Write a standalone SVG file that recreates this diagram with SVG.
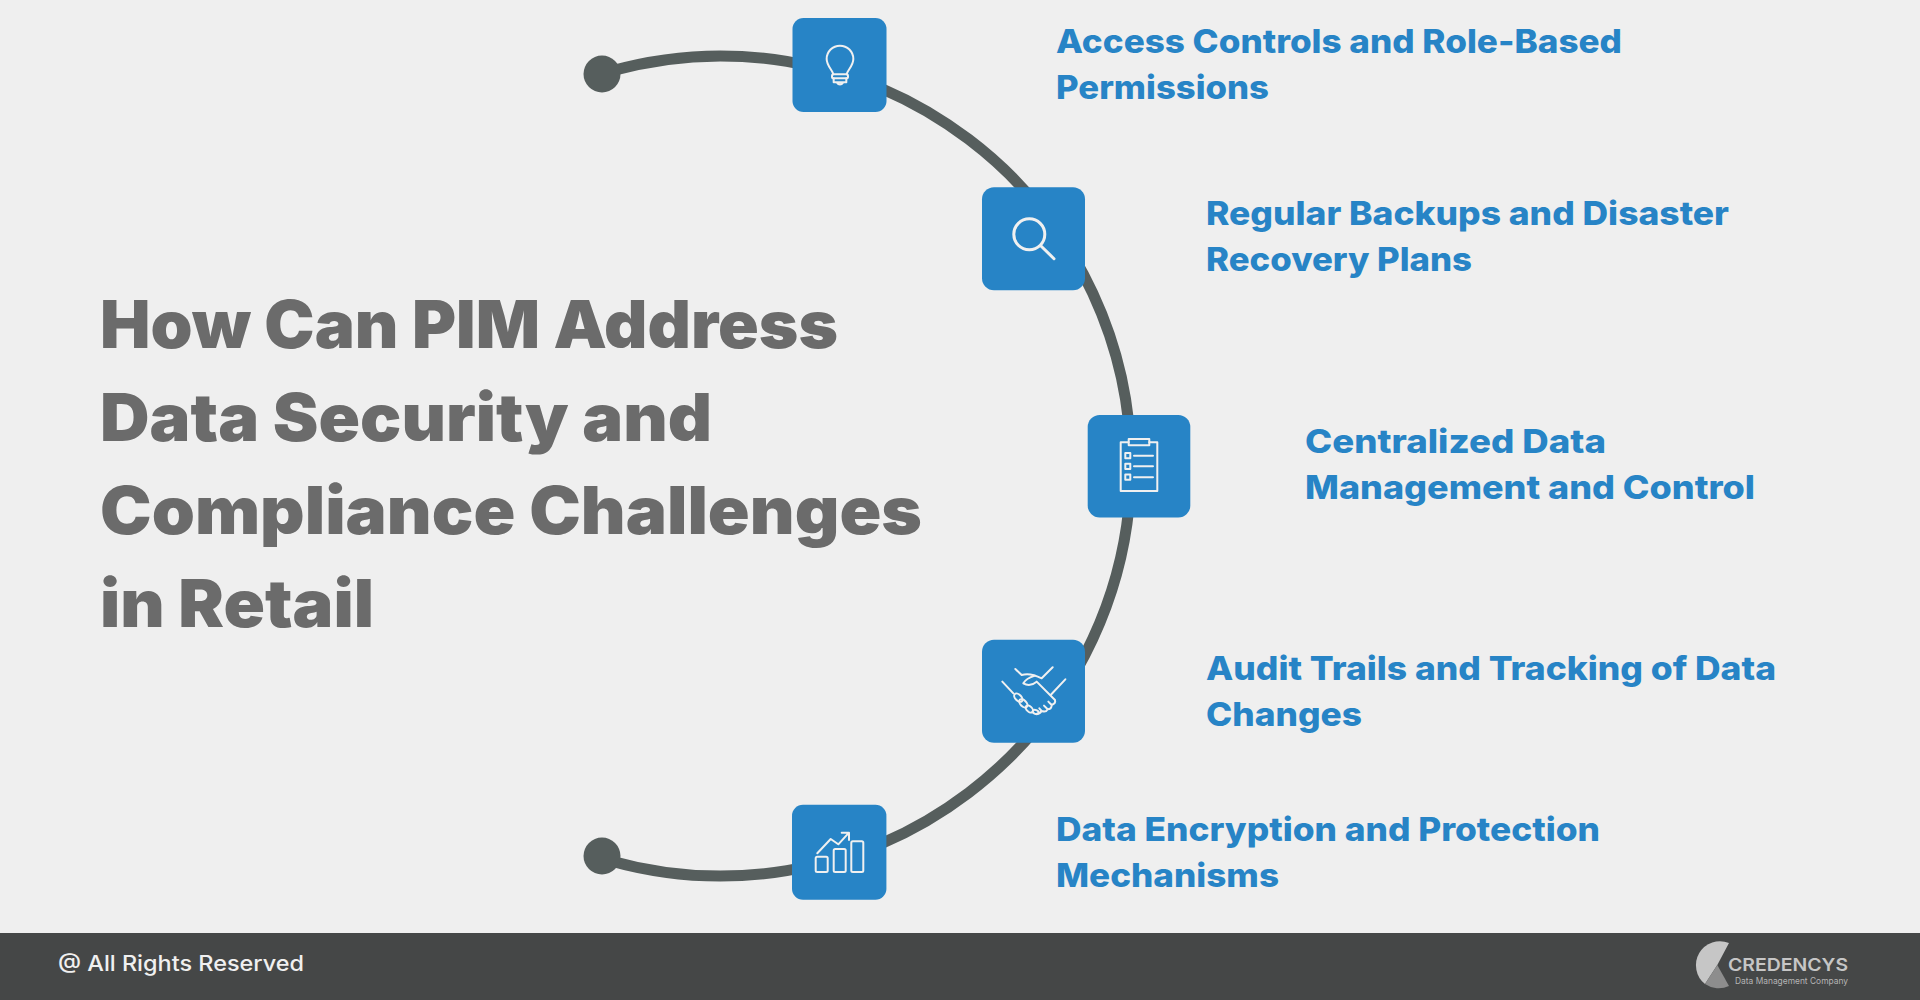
<svg xmlns="http://www.w3.org/2000/svg" width="1920" height="1000" viewBox="0 0 1920 1000">
<defs><style>
.h{font-family:"Inter","Liberation Sans",sans-serif;font-weight:900;font-size:66px;fill:#6b6b6b}
.t{font-family:"Inter","Liberation Sans",sans-serif;font-weight:800;font-size:33px;fill:#2784c6}
.n{fill:#2784c6}
.i{fill:none;stroke:#f0f0f0;stroke-width:2;stroke-linecap:round;stroke-linejoin:round}
.z{stroke-width:6}
</style></defs>
<rect width="1920" height="1000" fill="#efefef"/>
<g id="connectors">
<path d="M610 71.300A410 410 0 1 1 610 860.700" fill="none" stroke="#565e5d" stroke-width="11"/>
<circle cx="602" cy="74" r="18.500" fill="#565e5d"/>
<circle cx="602" cy="856" r="18.500" fill="#565e5d"/>
</g>
<g id="title"><text class="h" x="100" y="348" textLength="738" lengthAdjust="spacingAndGlyphs">How Can PIM Address</text>
<text class="h" x="100" y="441" textLength="612" lengthAdjust="spacingAndGlyphs">Data Security and</text>
<text class="h" x="100" y="534" textLength="822" lengthAdjust="spacingAndGlyphs">Compliance Challenges</text>
<text class="h" x="100" y="627" textLength="274" lengthAdjust="spacingAndGlyphs">in Retail</text></g>
<g id="node1"><rect class="n" x="792.500" y="18" width="94" height="94" rx="11"/>
<g class="i z" transform="translate(780 20) scale(.3333)"><path d="M160 163C158 150 140 138 140 117A40 40 0 0 1 220 117C220 138 202 150 200 163"/><rect x="156" y="163" width="48" height="12" rx="5"/><path d="M161 175V187H199V175M170 187Q180 200 190 187"/></g>
<text class="t" x="1056" y="53" textLength="566" lengthAdjust="spacingAndGlyphs">Access Controls and Role-Based</text>
<text class="t" x="1056" y="99" textLength="213" lengthAdjust="spacingAndGlyphs">Permissions</text></g>
<g id="node2"><rect class="n" x="982" y="187.300" width="103" height="103" rx="12"/>
<g class="i" style="stroke-width:3"><circle cx="1029.300" cy="234.300" r="15.500"/><path d="M1041 246L1054 258.700"/></g>
<text class="t" x="1206" y="225" textLength="523" lengthAdjust="spacingAndGlyphs">Regular Backups and Disaster</text>
<text class="t" x="1206" y="271" textLength="266" lengthAdjust="spacingAndGlyphs">Recovery Plans</text></g>
<g id="node3"><rect class="n" x="1087.700" y="415" width="102.600" height="102.600" rx="12"/>
<g class="i"><path d="M1128.700 442.300H1120.700V491H1157.300V442.300H1149.300"/><rect x="1128.700" y="439" width="20.600" height="6.300"/><rect x="1125.300" y="453" width="5" height="5.300"/><rect x="1125.300" y="463.700" width="5" height="5.300"/><rect x="1125.300" y="474.500" width="5" height="5.300"/><path d="M1134 455.700H1153M1134 466.300H1153M1134 477.200H1153"/></g>
<text class="t" x="1305" y="452.500" textLength="301" lengthAdjust="spacingAndGlyphs">Centralized Data</text>
<text class="t" x="1305" y="498.500" textLength="450" lengthAdjust="spacingAndGlyphs">Management and Control</text></g>
<g id="node4"><rect class="n" x="982" y="639.800" width="103" height="103" rx="12"/>
<g class="i z" transform="translate(980 640) scale(.3333)"><path d="M106 87L125 105Q150 97 185 115L218 82M67 125L100 160M256 118L212 165"/><path d="M165 107Q138 115 130 130Q150 142 170 125L225 180Q228 190 215 195Q215 208 203 208Q198 218 185 213Q180 222 168 222M215 195L205 185M203 208L192 197M185 213L178 205"/><ellipse cx="115" cy="173" rx="15" ry="9" transform="rotate(45 115 173)"/><ellipse cx="130" cy="190" rx="15" ry="9" transform="rotate(45 130 190)"/><ellipse cx="148" cy="207" rx="13" ry="8" transform="rotate(45 148 207)"/><ellipse cx="167" cy="216" rx="9" ry="6" transform="rotate(20 167 216)"/></g>
<text class="t" x="1206" y="679.500" textLength="570" lengthAdjust="spacingAndGlyphs">Audit Trails and Tracking of Data</text>
<text class="t" x="1206" y="725.500" textLength="156" lengthAdjust="spacingAndGlyphs">Changes</text></g>
<g id="node5"><rect class="n" x="792" y="804.800" width="94.400" height="95" rx="11"/>
<g class="i"><rect x="815.700" y="856.700" width="12" height="15.300" rx="1.500"/><rect x="833.700" y="849" width="12" height="23" rx="1.500"/><rect x="851.300" y="841.300" width="12" height="30.700" rx="1.500"/><path d="M817.300 853.300L830.700 839L838.300 844.300L848.300 833.300M841.700 832.700H849V840"/></g>
<text class="t" x="1056" y="840.500" textLength="544" lengthAdjust="spacingAndGlyphs">Data Encryption and Protection</text>
<text class="t" x="1056" y="886.500" textLength="223" lengthAdjust="spacingAndGlyphs">Mechanisms</text></g>
<g id="footer"><rect y="933" width="1920" height="67" fill="#454747"/>
<text x="58" y="971" font-family="Inter,'Liberation Sans',sans-serif" font-weight="500" font-size="21" fill="#f0f0f0" textLength="246" lengthAdjust="spacingAndGlyphs">@ All Rights Reserved</text></g>
<g id="logo"><path d="M1729 943A24 24 0 0 0 1705 984L1717.300 965Z" fill="#c6c6c6"/><path d="M1717.300 965L1705 984A24 24 0 0 0 1729 986Z" fill="#8d8d8d"/>
<text x="1728" y="971" font-family="Inter,'Liberation Sans',sans-serif" font-weight="600" font-size="17.500" fill="#c6c6c6" textLength="120" lengthAdjust="spacingAndGlyphs">CREDENCYS</text>
<text x="1735" y="984" font-family="Inter,'Liberation Sans',sans-serif" font-size="9" fill="#b5b5b5" textLength="113" lengthAdjust="spacingAndGlyphs">Data Management Company</text></g>
</svg>
